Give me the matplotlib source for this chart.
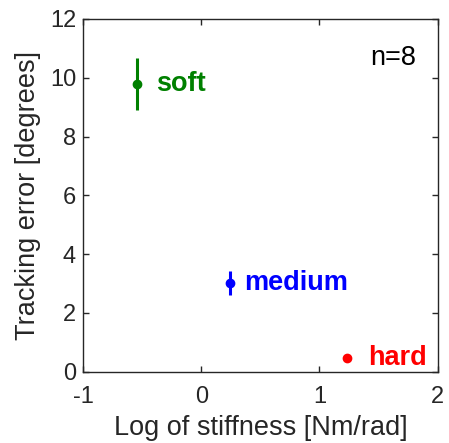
import matplotlib
matplotlib.use("Agg")
import matplotlib.pyplot as plt

plt.rcParams['font.family'] = ['Liberation Sans', 'DejaVu Sans']
plt.rcParams['axes.unicode_minus'] = False

# data
conditions = ["soft", "medium", "hard"]
log_stiffness = [-0.54, 0.24, 1.23]
tracking_error = [9.8, 3.03, 0.45]
error_sd = [0.88, 0.41, 0.08]
colors = ["#008000", "#0000ff", "#ff0000"]
label_dx = [0.16, 0.125, 0.18]
n_subjects = 8

fig = plt.figure(figsize=(4.49, 4.43), dpi=100)
ax = fig.add_axes([83 / 449, 1 - 371.7 / 443, (437.7 - 83) / 449, (371.7 - 19) / 443])

for x, y, e, c, name, dx in zip(log_stiffness, tracking_error, error_sd, colors, conditions, label_dx):
    ax.errorbar(x, y, yerr=e, fmt='o', color=c, markersize=6, elinewidth=2.2, capsize=0)
    ax.text(x + dx, y, name, color=c, fontsize=19.5, fontweight='bold', va='center', ha='left')

ax.text(1.43, 10.67, f"n={n_subjects}", fontsize=19.5, va='center', ha='left', color='black')

ax.set_xlim(-1, 2)
ax.set_ylim(0, 12)
ax.set_xticks([-1, 0, 1, 2])
ax.set_yticks([0, 2, 4, 6, 8, 10, 12])
ax.set_xlabel("Log of stiffness [Nm/rad]", fontsize=19.5, color='#262626', labelpad=5)
ax.set_ylabel("Tracking error [degrees]", fontsize=19.5, color='#262626', labelpad=6)

ax.tick_params(direction='in', length=4, width=1, top=True, right=True,
               labelsize=17, colors='#262626')
ax.tick_params(axis='x', pad=10)
ax.tick_params(axis='y', pad=5)
for s in ax.spines.values():
    s.set_linewidth(1)
    s.set_color('#262626')

fig.savefig("out.png", dpi=100)
